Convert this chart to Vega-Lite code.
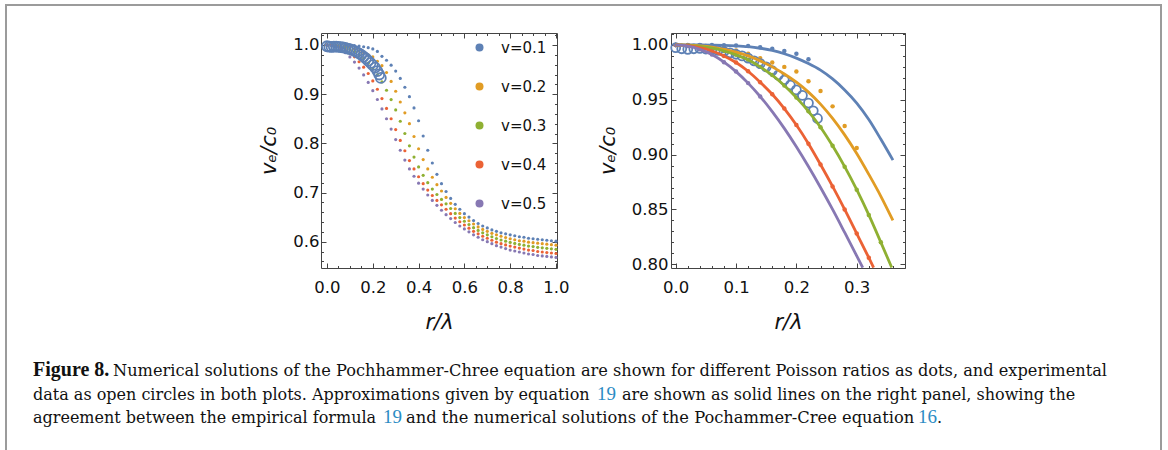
{
"$schema": "https://vega.github.io/schema/vega-lite/v6.json",
"width": 1155, "height": 447,
"autosize": {"type": "none"},
"padding": {"left": 6, "top": 5, "right": 7, "bottom": -2},
"background": "white",
"config": {
  "view": {"stroke": "#9b9b9b", "strokeWidth": 2},
  "axis": {"grid": false, "domainColor": "#444", "domainWidth": 1, "tickColor": "#444", "tickWidth": 1,
           "labelFont": "DejaVu Sans", "labelFontSize": 16.5, "labelColor": "#111", "labelFlush": false, "labelOverlap": false,
           "minExtent": 0, "maxExtent": 300, "titleFont": "DejaVu Sans", "titleFontStyle": "italic",
           "titleFontWeight": "normal", "titleFontSize": 21, "titleColor": "#111"}
},
"datasets": {
  "dots": [
    {"nu":"0.1","r":0,"v":1},{"nu":"0.1","r":0.02,"v":1},{"nu":"0.1","r":0.04,"v":1},{"nu":"0.1","r":0.06,"v":1},{"nu":"0.1","r":0.08,"v":0.9998},
    {"nu":"0.1","r":0.1,"v":0.9995},{"nu":"0.1","r":0.12,"v":0.999},{"nu":"0.1","r":0.14,"v":0.998},{"nu":"0.1","r":0.16,"v":0.9965},{"nu":"0.1","r":0.18,"v":0.9945},
    {"nu":"0.1","r":0.2,"v":0.992},{"nu":"0.1","r":0.22,"v":0.987},{"nu":"0.1","r":0.24,"v":0.977},{"nu":"0.1","r":0.26,"v":0.969},{"nu":"0.1","r":0.28,"v":0.959},
    {"nu":"0.1","r":0.3,"v":0.947},{"nu":"0.1","r":0.32,"v":0.932},{"nu":"0.1","r":0.34,"v":0.914},{"nu":"0.1","r":0.36,"v":0.895},{"nu":"0.1","r":0.38,"v":0.872},
    {"nu":"0.1","r":0.4,"v":0.846},{"nu":"0.1","r":0.42,"v":0.815},{"nu":"0.1","r":0.44,"v":0.786},{"nu":"0.1","r":0.46,"v":0.76},{"nu":"0.1","r":0.48,"v":0.737},
    {"nu":"0.1","r":0.5,"v":0.718},{"nu":"0.1","r":0.52,"v":0.702},{"nu":"0.1","r":0.54,"v":0.688},{"nu":"0.1","r":0.56,"v":0.676},{"nu":"0.1","r":0.58,"v":0.666},
    {"nu":"0.1","r":0.6,"v":0.657},{"nu":"0.1","r":0.62,"v":0.65},{"nu":"0.1","r":0.64,"v":0.643},{"nu":"0.1","r":0.66,"v":0.637},{"nu":"0.1","r":0.68,"v":0.632},
    {"nu":"0.1","r":0.7,"v":0.628},{"nu":"0.1","r":0.72,"v":0.624},{"nu":"0.1","r":0.74,"v":0.621},{"nu":"0.1","r":0.76,"v":0.618},{"nu":"0.1","r":0.78,"v":0.616},
    {"nu":"0.1","r":0.8,"v":0.614},{"nu":"0.1","r":0.82,"v":0.612},{"nu":"0.1","r":0.84,"v":0.61},{"nu":"0.1","r":0.86,"v":0.609},{"nu":"0.1","r":0.88,"v":0.607},
    {"nu":"0.1","r":0.9,"v":0.606},{"nu":"0.1","r":0.92,"v":0.605},{"nu":"0.1","r":0.94,"v":0.604},{"nu":"0.1","r":0.96,"v":0.603},{"nu":"0.1","r":0.98,"v":0.602},
    {"nu":"0.1","r":1,"v":0.601},

    {"nu":"0.2","r":0,"v":1},{"nu":"0.2","r":0.02,"v":0.9998},{"nu":"0.2","r":0.04,"v":0.9993},{"nu":"0.2","r":0.06,"v":0.9985},{"nu":"0.2","r":0.08,"v":0.997},
    {"nu":"0.2","r":0.1,"v":0.995},{"nu":"0.2","r":0.12,"v":0.992},{"nu":"0.2","r":0.14,"v":0.988},{"nu":"0.2","r":0.16,"v":0.984},{"nu":"0.2","r":0.18,"v":0.98},
    {"nu":"0.2","r":0.2,"v":0.9757},{"nu":"0.2","r":0.22,"v":0.967},{"nu":"0.2","r":0.24,"v":0.958},{"nu":"0.2","r":0.26,"v":0.944},{"nu":"0.2","r":0.28,"v":0.926},
    {"nu":"0.2","r":0.3,"v":0.906},{"nu":"0.2","r":0.32,"v":0.884},{"nu":"0.2","r":0.34,"v":0.862},{"nu":"0.2","r":0.36,"v":0.84},{"nu":"0.2","r":0.38,"v":0.814},
    {"nu":"0.2","r":0.4,"v":0.789},{"nu":"0.2","r":0.42,"v":0.767},{"nu":"0.2","r":0.44,"v":0.748},{"nu":"0.2","r":0.46,"v":0.731},{"nu":"0.2","r":0.48,"v":0.716},
    {"nu":"0.2","r":0.5,"v":0.703},{"nu":"0.2","r":0.52,"v":0.69},{"nu":"0.2","r":0.54,"v":0.678},{"nu":"0.2","r":0.56,"v":0.667},{"nu":"0.2","r":0.58,"v":0.6575},
    {"nu":"0.2","r":0.6,"v":0.649},{"nu":"0.2","r":0.62,"v":0.6425},{"nu":"0.2","r":0.64,"v":0.636},{"nu":"0.2","r":0.66,"v":0.63},{"nu":"0.2","r":0.68,"v":0.625},
    {"nu":"0.2","r":0.7,"v":0.621},{"nu":"0.2","r":0.72,"v":0.617},{"nu":"0.2","r":0.74,"v":0.614},{"nu":"0.2","r":0.76,"v":0.611},{"nu":"0.2","r":0.78,"v":0.6085},
    {"nu":"0.2","r":0.8,"v":0.606},{"nu":"0.2","r":0.82,"v":0.604},{"nu":"0.2","r":0.84,"v":0.602},{"nu":"0.2","r":0.86,"v":0.601},{"nu":"0.2","r":0.88,"v":0.599},
    {"nu":"0.2","r":0.9,"v":0.598},{"nu":"0.2","r":0.92,"v":0.597},{"nu":"0.2","r":0.94,"v":0.596},{"nu":"0.2","r":0.96,"v":0.595},{"nu":"0.2","r":0.98,"v":0.594},
    {"nu":"0.2","r":1,"v":0.593},

    {"nu":"0.3","r":0,"v":1},{"nu":"0.3","r":0.02,"v":0.9997},{"nu":"0.3","r":0.04,"v":0.9987},{"nu":"0.3","r":0.06,"v":0.997},{"nu":"0.3","r":0.08,"v":0.9945},
    {"nu":"0.3","r":0.1,"v":0.991},{"nu":"0.3","r":0.12,"v":0.9865},{"nu":"0.3","r":0.14,"v":0.98},{"nu":"0.3","r":0.16,"v":0.9725},{"nu":"0.3","r":0.18,"v":0.963},
    {"nu":"0.3","r":0.2,"v":0.952},{"nu":"0.3","r":0.22,"v":0.9395},{"nu":"0.3","r":0.24,"v":0.925},{"nu":"0.3","r":0.26,"v":0.908},{"nu":"0.3","r":0.28,"v":0.889},
    {"nu":"0.3","r":0.3,"v":0.868},{"nu":"0.3","r":0.32,"v":0.845},{"nu":"0.3","r":0.34,"v":0.82},{"nu":"0.3","r":0.36,"v":0.795},{"nu":"0.3","r":0.38,"v":0.772},
    {"nu":"0.3","r":0.4,"v":0.752},{"nu":"0.3","r":0.42,"v":0.735},{"nu":"0.3","r":0.44,"v":0.72},{"nu":"0.3","r":0.46,"v":0.707},{"nu":"0.3","r":0.48,"v":0.696},
    {"nu":"0.3","r":0.5,"v":0.686},{"nu":"0.3","r":0.52,"v":0.677},{"nu":"0.3","r":0.54,"v":0.6675},{"nu":"0.3","r":0.56,"v":0.6575},{"nu":"0.3","r":0.58,"v":0.649},
    {"nu":"0.3","r":0.6,"v":0.6415},{"nu":"0.3","r":0.62,"v":0.635},{"nu":"0.3","r":0.64,"v":0.6285},{"nu":"0.3","r":0.66,"v":0.623},{"nu":"0.3","r":0.68,"v":0.618},
    {"nu":"0.3","r":0.7,"v":0.614},{"nu":"0.3","r":0.72,"v":0.61},{"nu":"0.3","r":0.74,"v":0.6065},{"nu":"0.3","r":0.76,"v":0.6035},{"nu":"0.3","r":0.78,"v":0.601},
    {"nu":"0.3","r":0.8,"v":0.5985},{"nu":"0.3","r":0.82,"v":0.5965},{"nu":"0.3","r":0.84,"v":0.5945},{"nu":"0.3","r":0.86,"v":0.593},{"nu":"0.3","r":0.88,"v":0.591},
    {"nu":"0.3","r":0.9,"v":0.59},{"nu":"0.3","r":0.92,"v":0.5885},{"nu":"0.3","r":0.94,"v":0.5875},{"nu":"0.3","r":0.96,"v":0.5865},{"nu":"0.3","r":0.98,"v":0.5855},
    {"nu":"0.3","r":1,"v":0.5845},

    {"nu":"0.4","r":0,"v":1},{"nu":"0.4","r":0.02,"v":0.9994},{"nu":"0.4","r":0.04,"v":0.9975},{"nu":"0.4","r":0.06,"v":0.9945},{"nu":"0.4","r":0.08,"v":0.99},
    {"nu":"0.4","r":0.1,"v":0.984},{"nu":"0.4","r":0.12,"v":0.976},{"nu":"0.4","r":0.14,"v":0.966},{"nu":"0.4","r":0.16,"v":0.955},{"nu":"0.4","r":0.18,"v":0.942},
    {"nu":"0.4","r":0.2,"v":0.927},{"nu":"0.4","r":0.22,"v":0.91},{"nu":"0.4","r":0.24,"v":0.891},{"nu":"0.4","r":0.26,"v":0.871},{"nu":"0.4","r":0.28,"v":0.85},
    {"nu":"0.4","r":0.3,"v":0.828},{"nu":"0.4","r":0.32,"v":0.806},{"nu":"0.4","r":0.34,"v":0.785},{"nu":"0.4","r":0.36,"v":0.765},{"nu":"0.4","r":0.38,"v":0.748},
    {"nu":"0.4","r":0.4,"v":0.732},{"nu":"0.4","r":0.42,"v":0.718},{"nu":"0.4","r":0.44,"v":0.705},{"nu":"0.4","r":0.46,"v":0.694},{"nu":"0.4","r":0.48,"v":0.684},
    {"nu":"0.4","r":0.5,"v":0.675},{"nu":"0.4","r":0.52,"v":0.666},{"nu":"0.4","r":0.54,"v":0.657},{"nu":"0.4","r":0.56,"v":0.648},{"nu":"0.4","r":0.58,"v":0.6405},
    {"nu":"0.4","r":0.6,"v":0.634},{"nu":"0.4","r":0.62,"v":0.6275},{"nu":"0.4","r":0.64,"v":0.621},{"nu":"0.4","r":0.66,"v":0.616},{"nu":"0.4","r":0.68,"v":0.611},
    {"nu":"0.4","r":0.7,"v":0.607},{"nu":"0.4","r":0.72,"v":0.603},{"nu":"0.4","r":0.74,"v":0.599},{"nu":"0.4","r":0.76,"v":0.596},{"nu":"0.4","r":0.78,"v":0.5935},
    {"nu":"0.4","r":0.8,"v":0.591},{"nu":"0.4","r":0.82,"v":0.589},{"nu":"0.4","r":0.84,"v":0.587},{"nu":"0.4","r":0.86,"v":0.585},{"nu":"0.4","r":0.88,"v":0.583},
    {"nu":"0.4","r":0.9,"v":0.582},{"nu":"0.4","r":0.92,"v":0.58},{"nu":"0.4","r":0.94,"v":0.579},{"nu":"0.4","r":0.96,"v":0.578},{"nu":"0.4","r":0.98,"v":0.577},
    {"nu":"0.4","r":1,"v":0.576},

    {"nu":"0.5","r":0,"v":1},{"nu":"0.5","r":0.02,"v":0.999},{"nu":"0.5","r":0.04,"v":0.996},{"nu":"0.5","r":0.06,"v":0.9912},{"nu":"0.5","r":0.08,"v":0.9843},
    {"nu":"0.5","r":0.1,"v":0.9757},{"nu":"0.5","r":0.12,"v":0.9652},{"nu":"0.5","r":0.14,"v":0.953},{"nu":"0.5","r":0.16,"v":0.9392},{"nu":"0.5","r":0.18,"v":0.9239},
    {"nu":"0.5","r":0.2,"v":0.9071},{"nu":"0.5","r":0.22,"v":0.8891},{"nu":"0.5","r":0.24,"v":0.87},{"nu":"0.5","r":0.26,"v":0.85},{"nu":"0.5","r":0.28,"v":0.829},
    {"nu":"0.5","r":0.3,"v":0.8077},{"nu":"0.5","r":0.32,"v":0.786},{"nu":"0.5","r":0.34,"v":0.766},{"nu":"0.5","r":0.36,"v":0.748},{"nu":"0.5","r":0.38,"v":0.733},
    {"nu":"0.5","r":0.4,"v":0.719},{"nu":"0.5","r":0.42,"v":0.707},{"nu":"0.5","r":0.44,"v":0.695},{"nu":"0.5","r":0.46,"v":0.684},{"nu":"0.5","r":0.48,"v":0.674},
    {"nu":"0.5","r":0.5,"v":0.664},{"nu":"0.5","r":0.52,"v":0.655},{"nu":"0.5","r":0.54,"v":0.647},{"nu":"0.5","r":0.56,"v":0.639},{"nu":"0.5","r":0.58,"v":0.632},
    {"nu":"0.5","r":0.6,"v":0.626},{"nu":"0.5","r":0.62,"v":0.62},{"nu":"0.5","r":0.64,"v":0.614},{"nu":"0.5","r":0.66,"v":0.609},{"nu":"0.5","r":0.68,"v":0.604},
    {"nu":"0.5","r":0.7,"v":0.6},{"nu":"0.5","r":0.72,"v":0.596},{"nu":"0.5","r":0.74,"v":0.592},{"nu":"0.5","r":0.76,"v":0.589},{"nu":"0.5","r":0.78,"v":0.586},
    {"nu":"0.5","r":0.8,"v":0.583},{"nu":"0.5","r":0.82,"v":0.581},{"nu":"0.5","r":0.84,"v":0.579},{"nu":"0.5","r":0.86,"v":0.577},{"nu":"0.5","r":0.88,"v":0.575},
    {"nu":"0.5","r":0.9,"v":0.574},{"nu":"0.5","r":0.92,"v":0.572},{"nu":"0.5","r":0.94,"v":0.571},{"nu":"0.5","r":0.96,"v":0.57},{"nu":"0.5","r":0.98,"v":0.569},
    {"nu":"0.5","r":1,"v":0.568}
  ],
  "lines": [
    {"nu":"0.1","r":0,"v":1},{"nu":"0.1","r":0.04,"v":1},{"nu":"0.1","r":0.06,"v":0.9999},{"nu":"0.1","r":0.08,"v":0.9997},{"nu":"0.1","r":0.1,"v":0.9992},
    {"nu":"0.1","r":0.12,"v":0.9984},{"nu":"0.1","r":0.14,"v":0.997},{"nu":"0.1","r":0.16,"v":0.995},{"nu":"0.1","r":0.18,"v":0.992},{"nu":"0.1","r":0.2,"v":0.988},
    {"nu":"0.1","r":0.22,"v":0.983},{"nu":"0.1","r":0.24,"v":0.977},{"nu":"0.1","r":0.26,"v":0.969},{"nu":"0.1","r":0.28,"v":0.959},{"nu":"0.1","r":0.3,"v":0.947},
    {"nu":"0.1","r":0.32,"v":0.932},{"nu":"0.1","r":0.34,"v":0.914},{"nu":"0.1","r":0.36,"v":0.895},
    {"nu":"0.2","r":0,"v":1},{"nu":"0.2","r":0.02,"v":0.9998},{"nu":"0.2","r":0.04,"v":0.9992},{"nu":"0.2","r":0.06,"v":0.998},{"nu":"0.2","r":0.08,"v":0.996},
    {"nu":"0.2","r":0.1,"v":0.9935},{"nu":"0.2","r":0.12,"v":0.99},{"nu":"0.2","r":0.14,"v":0.9855},{"nu":"0.2","r":0.16,"v":0.98},{"nu":"0.2","r":0.18,"v":0.9735},
    {"nu":"0.2","r":0.2,"v":0.966},{"nu":"0.2","r":0.22,"v":0.957},{"nu":"0.2","r":0.24,"v":0.946},{"nu":"0.2","r":0.26,"v":0.933},{"nu":"0.2","r":0.28,"v":0.918},
    {"nu":"0.2","r":0.3,"v":0.901},{"nu":"0.2","r":0.32,"v":0.882},{"nu":"0.2","r":0.34,"v":0.862},{"nu":"0.2","r":0.36,"v":0.84},
    {"nu":"0.3","r":0,"v":1},{"nu":"0.3","r":0.02,"v":0.9997},{"nu":"0.3","r":0.04,"v":0.9987},{"nu":"0.3","r":0.06,"v":0.997},{"nu":"0.3","r":0.08,"v":0.9945},
    {"nu":"0.3","r":0.1,"v":0.991},{"nu":"0.3","r":0.12,"v":0.9865},{"nu":"0.3","r":0.14,"v":0.98},{"nu":"0.3","r":0.16,"v":0.9725},{"nu":"0.3","r":0.18,"v":0.963},
    {"nu":"0.3","r":0.2,"v":0.952},{"nu":"0.3","r":0.22,"v":0.9395},{"nu":"0.3","r":0.24,"v":0.925},{"nu":"0.3","r":0.26,"v":0.908},{"nu":"0.3","r":0.28,"v":0.889},
    {"nu":"0.3","r":0.3,"v":0.868},{"nu":"0.3","r":0.32,"v":0.845},{"nu":"0.3","r":0.34,"v":0.82},{"nu":"0.3","r":0.358,"v":0.797},
    {"nu":"0.4","r":0,"v":1},{"nu":"0.4","r":0.02,"v":0.9994},{"nu":"0.4","r":0.04,"v":0.9975},{"nu":"0.4","r":0.06,"v":0.9945},{"nu":"0.4","r":0.08,"v":0.99},
    {"nu":"0.4","r":0.1,"v":0.984},{"nu":"0.4","r":0.12,"v":0.976},{"nu":"0.4","r":0.14,"v":0.966},{"nu":"0.4","r":0.16,"v":0.955},{"nu":"0.4","r":0.18,"v":0.942},
    {"nu":"0.4","r":0.2,"v":0.927},{"nu":"0.4","r":0.22,"v":0.91},{"nu":"0.4","r":0.24,"v":0.891},{"nu":"0.4","r":0.26,"v":0.871},{"nu":"0.4","r":0.28,"v":0.85},
    {"nu":"0.4","r":0.3,"v":0.828},{"nu":"0.4","r":0.32,"v":0.806},{"nu":"0.4","r":0.328,"v":0.797},
    {"nu":"0.5","r":0,"v":1},{"nu":"0.5","r":0.02,"v":0.999},{"nu":"0.5","r":0.04,"v":0.996},{"nu":"0.5","r":0.06,"v":0.9912},{"nu":"0.5","r":0.08,"v":0.9843},
    {"nu":"0.5","r":0.1,"v":0.9757},{"nu":"0.5","r":0.12,"v":0.9652},{"nu":"0.5","r":0.14,"v":0.953},{"nu":"0.5","r":0.16,"v":0.9392},{"nu":"0.5","r":0.18,"v":0.9239},
    {"nu":"0.5","r":0.2,"v":0.9071},{"nu":"0.5","r":0.22,"v":0.8891},{"nu":"0.5","r":0.24,"v":0.87},{"nu":"0.5","r":0.26,"v":0.85},{"nu":"0.5","r":0.28,"v":0.829},
    {"nu":"0.5","r":0.3,"v":0.8077},{"nu":"0.5","r":0.31,"v":0.797}
  ],
  "exp": [
    {"r":0,"v":0.9975},{"r":0.01,"v":0.9965},{"r":0.02,"v":0.996},{"r":0.03,"v":0.9965},{"r":0.04,"v":0.9968},
    {"r":0.05,"v":0.9963},{"r":0.06,"v":0.9958},{"r":0.07,"v":0.995},{"r":0.08,"v":0.994},{"r":0.09,"v":0.9928},
    {"r":0.1,"v":0.9915},{"r":0.11,"v":0.99},{"r":0.12,"v":0.988},{"r":0.13,"v":0.9855},{"r":0.14,"v":0.983},
    {"r":0.15,"v":0.98},{"r":0.16,"v":0.9765},{"r":0.17,"v":0.9725},{"r":0.18,"v":0.968},{"r":0.19,"v":0.9635},
    {"r":0.2,"v":0.959},{"r":0.21,"v":0.954},{"r":0.22,"v":0.947},{"r":0.228,"v":0.94},{"r":0.235,"v":0.933}
  ]
},
"layer": [
  {
    "data": {"name": "dots"},
    "mark": {"type": "circle", "size": 10, "opacity": 1},
    "encoding": {
      "x": {"field": "r", "type": "quantitative",
            "scale": {"domain": [-0.0262, 1.0044], "range": [315, 551], "nice": false, "zero": false},
            "axis": {"orient": "bottom", "offset": -184,
                     "values": [0,0.05,0.1,0.15,0.2,0.25,0.3,0.35,0.4,0.45,0.5,0.55,0.6,0.65,0.7,0.75,0.8,0.85,0.9,0.95,1],
                     "labelExpr": "abs(datum.value*5-round(datum.value*5))<0.001 ? format(datum.value,'.1f') : ''",
                     "tickSize": {"condition": {"test": "abs(datum.value*5-round(datum.value*5))<0.001", "value": -5}, "value": -2.5},
                     "labelPadding": 16, "title": "r/λ", "titlePadding": 13}},
      "y": {"field": "v", "type": "quantitative",
            "scale": {"domain": [0.5465, 1.0244], "range": [263, 28], "nice": false, "zero": false},
            "axis": {"orient": "left", "offset": -315,
                     "values": [0.56,0.58,0.6,0.62,0.64,0.66,0.68,0.7,0.72,0.74,0.76,0.78,0.8,0.82,0.84,0.86,0.88,0.9,0.92,0.94,0.96,0.98,1,1.02],
                     "labelExpr": "abs(datum.value*10-round(datum.value*10))<0.001 ? format(datum.value,'.1f') : ''",
                     "tickSize": {"condition": {"test": "abs(datum.value*10-round(datum.value*10))<0.001", "value": -5}, "value": -2.5},
                     "labelPadding": 7, "title": "vₑ/c₀", "titlePadding": 13}},
      "color": {"field": "nu", "type": "nominal",
                "scale": {"domain": ["0.1","0.2","0.3","0.4","0.5"], "range": ["#5E81B5","#E19C24","#8FB032","#EB6235","#8778B3"]},
                "legend": {"orient": "none", "legendX": 466, "legendY": 35, "title": null, "padding": 0,
                           "symbolType": "circle", "symbolSize": 64, "symbolStrokeWidth": 0, "symbolOpacity": 1,
                           "labelFont": "DejaVu Sans", "labelFontSize": 15, "labelColor": "#111",
                           "labelOffset": 14, "rowPadding": 23, "labelExpr": "'v=' + datum.label"}}
    }
  },
  {
    "data": {"name": "exp"},
    "mark": {"type": "point", "shape": "circle", "size": 100, "filled": false, "stroke": "#5E81B5", "strokeWidth": 1.8, "opacity": 1},
    "encoding": {
      "x": {"field": "r", "type": "quantitative",
            "scale": {"domain": [-0.0262, 1.0044], "range": [315, 551], "nice": false, "zero": false},
            "axis": {"orient": "top", "offset": -28, "labels": false, "title": null,
                     "values": [0,0.05,0.1,0.15,0.2,0.25,0.3,0.35,0.4,0.45,0.5,0.55,0.6,0.65,0.7,0.75,0.8,0.85,0.9,0.95,1],
                     "tickSize": {"condition": {"test": "abs(datum.value*5-round(datum.value*5))<0.001", "value": -5}, "value": -2.5}}},
      "y": {"field": "v", "type": "quantitative",
            "scale": {"domain": [0.5465, 1.0244], "range": [263, 28], "nice": false, "zero": false},
            "axis": {"orient": "right", "offset": -604, "labels": false, "title": null,
                     "values": [0.56,0.58,0.6,0.62,0.64,0.66,0.68,0.7,0.72,0.74,0.76,0.78,0.8,0.82,0.84,0.86,0.88,0.9,0.92,0.94,0.96,0.98,1,1.02],
                     "tickSize": {"condition": {"test": "abs(datum.value*10-round(datum.value*10))<0.001", "value": -5}, "value": -2.5}}}
    }
  },
  {
    "data": {"name": "dots"},
    "transform": [{"filter": "datum.v >= 0.797 && datum.r <= 0.375 && (datum.nu == '0.3' || datum.nu == '0.4' || (datum.nu == '0.1' && datum.r <= 0.22) || (datum.nu == '0.2' && datum.r <= 0.3) || (datum.nu == '0.5' && datum.r <= 0.14))"}],
    "mark": {"type": "circle", "size": 20, "opacity": 1},
    "encoding": {
      "x": {"field": "r", "type": "quantitative",
            "scale": {"domain": [-0.0078, 0.38], "range": [665, 899], "nice": false, "zero": false},
            "axis": {"orient": "top", "offset": -28, "labels": false, "title": null,
                     "values": [0,0.02,0.04,0.06,0.08,0.1,0.12,0.14,0.16,0.18,0.2,0.22,0.24,0.26,0.28,0.3,0.32,0.34,0.36,0.38],
                     "tickSize": {"condition": {"test": "abs(datum.value*10-round(datum.value*10))<0.001", "value": -5}, "value": -2.5}}},
      "y": {"field": "v", "type": "quantitative",
            "scale": {"domain": [0.7966, 1.0109], "range": [263, 28], "nice": false, "zero": false},
            "axis": {"orient": "right", "offset": -256, "labels": false, "title": null,
                     "values": [0.8,0.81,0.82,0.83,0.84,0.85,0.86,0.87,0.88,0.89,0.9,0.91,0.92,0.93,0.94,0.95,0.96,0.97,0.98,0.99,1,1.01],
                     "tickSize": {"condition": {"test": "abs(datum.value*20-round(datum.value*20))<0.001", "value": -5}, "value": -2.5}}},
      "color": {"field": "nu", "type": "nominal",
                "scale": {"domain": ["0.1","0.2","0.3","0.4","0.5"], "range": ["#5E81B5","#E19C24","#8FB032","#EB6235","#8778B3"]},
                "legend": null}
    }
  },
  {
    "data": {"name": "exp"},
    "mark": {"type": "point", "shape": "circle", "size": 80, "filled": false, "stroke": "#5E81B5", "strokeWidth": 1.8, "opacity": 1},
    "encoding": {
      "x": {"field": "r", "type": "quantitative",
            "scale": {"domain": [-0.0078, 0.38], "range": [665, 899], "nice": false, "zero": false}, "axis": null},
      "y": {"field": "v", "type": "quantitative",
            "scale": {"domain": [0.7966, 1.0109], "range": [263, 28], "nice": false, "zero": false}, "axis": null}
    }
  },
  {
    "data": {"name": "lines"},
    "mark": {"type": "line", "strokeWidth": 2.8, "interpolate": "monotone"},
    "encoding": {
      "x": {"field": "r", "type": "quantitative",
            "scale": {"domain": [-0.0078, 0.38], "range": [665, 899], "nice": false, "zero": false},
            "axis": {"orient": "bottom", "offset": -184,
                     "values": [0,0.02,0.04,0.06,0.08,0.1,0.12,0.14,0.16,0.18,0.2,0.22,0.24,0.26,0.28,0.3,0.32,0.34,0.36,0.38],
                     "labelExpr": "abs(datum.value*10-round(datum.value*10))<0.001 ? format(datum.value,'.1f') : ''",
                     "tickSize": {"condition": {"test": "abs(datum.value*10-round(datum.value*10))<0.001", "value": -5}, "value": -2.5},
                     "labelPadding": 16, "title": "r/λ", "titlePadding": 13}},
      "y": {"field": "v", "type": "quantitative",
            "scale": {"domain": [0.7966, 1.0109], "range": [263, 28], "nice": false, "zero": false},
            "axis": {"orient": "left", "offset": -665,
                     "values": [0.8,0.81,0.82,0.83,0.84,0.85,0.86,0.87,0.88,0.89,0.9,0.91,0.92,0.93,0.94,0.95,0.96,0.97,0.98,0.99,1,1.01],
                     "labelExpr": "abs(datum.value*20-round(datum.value*20))<0.001 ? format(datum.value,'.2f') : ''",
                     "tickSize": {"condition": {"test": "abs(datum.value*20-round(datum.value*20))<0.001", "value": -5}, "value": -2.5},
                     "labelPadding": 8, "title": "vₑ/c₀", "titlePadding": 13}},
      "color": {"field": "nu", "type": "nominal",
                "scale": {"domain": ["0.1","0.2","0.3","0.4","0.5"], "range": ["#5E81B5","#E19C24","#8FB032","#EB6235","#8778B3"]},
                "legend": null}
    }
  },
  {"data": {"values": [{"t": "Figure 8."}]}, "mark": {"type": "text", "x": 27, "y": 371, "align": "left", "baseline": "alphabetic", "font": "Liberation Serif", "fontSize": 20, "fontWeight": "bold", "color": "#111"}, "encoding": {"text": {"field": "t"}}},
  {"data": {"values": [{"t": "Numerical solutions of the Pochhammer-Chree equation are shown for different Poisson ratios as dots, and experimental"}]}, "mark": {"type": "text", "x": 107, "y": 371, "align": "left", "baseline": "alphabetic", "font": "DejaVu Serif", "fontSize": 16.2, "color": "#111"}, "encoding": {"text": {"field": "t"}}},
  {"data": {"values": [{"t": "data as open circles in both plots. Approximations given by equation"}]}, "mark": {"type": "text", "x": 27, "y": 394.5, "align": "left", "baseline": "alphabetic", "font": "DejaVu Serif", "fontSize": 16, "color": "#111"}, "encoding": {"text": {"field": "t"}}},
  {"data": {"values": [{"t": "19"}]}, "mark": {"type": "text", "x": 591, "y": 394.5, "align": "left", "baseline": "alphabetic", "font": "Liberation Serif", "fontSize": 19, "color": "#2B8CC4"}, "encoding": {"text": {"field": "t"}}},
  {"data": {"values": [{"t": "are shown as solid lines on the right panel, showing the"}]}, "mark": {"type": "text", "x": 616, "y": 394.5, "align": "left", "baseline": "alphabetic", "font": "DejaVu Serif", "fontSize": 16, "color": "#111"}, "encoding": {"text": {"field": "t"}}},
  {"data": {"values": [{"t": "agreement between the empirical formula"}]}, "mark": {"type": "text", "x": 27, "y": 418, "align": "left", "baseline": "alphabetic", "font": "DejaVu Serif", "fontSize": 16, "color": "#111"}, "encoding": {"text": {"field": "t"}}},
  {"data": {"values": [{"t": "19"}]}, "mark": {"type": "text", "x": 377, "y": 418, "align": "left", "baseline": "alphabetic", "font": "Liberation Serif", "fontSize": 19, "color": "#2B8CC4"}, "encoding": {"text": {"field": "t"}}},
  {"data": {"values": [{"t": "and the numerical solutions of the Pochammer-Cree equation"}]}, "mark": {"type": "text", "x": 400, "y": 418, "align": "left", "baseline": "alphabetic", "font": "DejaVu Serif", "fontSize": 16.3, "color": "#111"}, "encoding": {"text": {"field": "t"}}},
  {"data": {"values": [{"t": "16"}]}, "mark": {"type": "text", "x": 912, "y": 418, "align": "left", "baseline": "alphabetic", "font": "Liberation Serif", "fontSize": 19, "color": "#2B8CC4"}, "encoding": {"text": {"field": "t"}}},
  {"data": {"values": [{"t": "."}]}, "mark": {"type": "text", "x": 931, "y": 418, "align": "left", "baseline": "alphabetic", "font": "DejaVu Serif", "fontSize": 16, "color": "#111"}, "encoding": {"text": {"field": "t"}}}
],
"resolve": {
  "scale": {"x": "independent", "y": "independent", "color": "independent"},
  "axis": {"x": "independent", "y": "independent"},
  "legend": {"color": "independent"}
}
}
